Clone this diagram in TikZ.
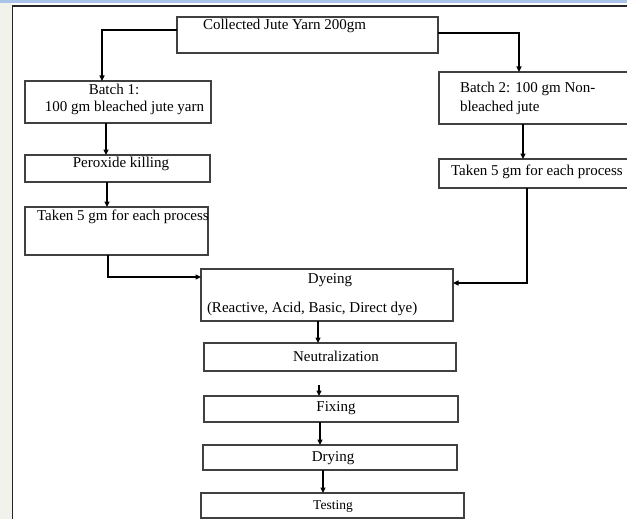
\documentclass[tikz,border=0pt]{standalone}
\usepackage{fontspec}
\setmainfont{Liberation Serif}
\usetikzlibrary{arrows.meta,calc}
\begin{document}
\begin{tikzpicture}[x=1pt,y=-1pt,
  box/.style={draw=black!75,line width=1.1pt,inner sep=0pt,outer sep=0pt},
  txt/.style={inner sep=0pt,outer sep=0pt,font=\fontsize{15}{18}\selectfont,text=black},
  arr/.style={draw=black,line width=1.2pt,-{Triangle[length=5.5pt,width=5pt]}},
  conn/.style={draw=black,line width=1.2pt}]
\useasboundingbox (0,0) rectangle (627,519);
\begin{scope}
\clip (0,0) rectangle (627,519);
% page frame
\fill[white] (0,0) rectangle (627,519);
\fill[color={rgb,255:red,242;green,242;blue,236}] (0,0) rectangle (12,519);
\fill[white] (12,6) rectangle (627,519);
\draw[color={rgb,255:red,168;green,196;blue,232},line width=2.5pt] (0,1.5) -- (627,1.5);
\draw[black!85,line width=1.6pt] (12.5,519) -- (12.5,6) -- (627,6);
% boxes
\node[box,minimum width=261,minimum height=36] (top) at (307.5,35) {};
\node[box,minimum width=186,minimum height=42] (batch1) at (118,102) {};
\node[box,minimum width=185,minimum height=27] (perox) at (117.5,168.5) {};
\node[box,minimum width=183,minimum height=48] (take1) at (116.5,231) {};
\node[box,minimum width=201,minimum height=52] (batch2) at (539.5,98) {};
\node[box,minimum width=201,minimum height=29] (take2) at (539.5,173.5) {};
\node[box,minimum width=252,minimum height=52] (dye) at (327,295) {};
\node[box,minimum width=252,minimum height=28] (neut) at (330,357) {};
\node[box,minimum width=254,minimum height=26] (fix) at (331,409) {};
\node[box,minimum width=254,minimum height=25] (dry) at (330,457.5) {};
\node[box,minimum width=263,minimum height=25] (test) at (332.5,505.5) {};
% texts
\node[txt,anchor=west] (topt) at (203,26) {Collected Jute Yarn 200gm};
\node[txt] (b1a) at (114,89) {Batch 1:};
\node[txt,anchor=west] (b1b) at (45,108) {100 gm bleached jute yarn};
\node[txt] (pxt) at (121,164) {Peroxide killing};
\node[txt,anchor=west] (t1t) at (37,217) {Taken 5 gm for each process};
\node[txt,anchor=west] (b2a) at (460,89) {Batch 2: 100 gm Non-};
\node[txt,anchor=west] (b2b) at (460,108) {bleached jute};
\node[txt,anchor=west] (t2t) at (451,172) {Taken 5 gm for each process};
\node[txt] (dyt) at (330,280) {Dyeing};
\node[txt,anchor=west] (dyt2) at (207,309) {(Reactive, Acid, Basic, Direct dye)};
\node[txt] (nt) at (336,356) {Neutralization};
\node[txt] (ft) at (336,408) {Fixing};
\node[txt] (drt) at (333,458) {Drying};
\node[txt,font=\fontsize{13.5}{16}\selectfont] (tt) at (333,506) {Testing};
% connectors
\draw[arr] ([yshift=5pt]top.west) -| ([xshift=-16pt]batch1.north);
\draw[arr] ([yshift=2pt]top.east) -| ([xshift=-20.5pt]batch2.north);
\draw[arr] ([xshift=-12pt]batch1.south) -- ([xshift=-12pt]batch1.south |- perox.north);
\draw[arr] ([xshift=-10.5pt]perox.south) -- ([xshift=-10.5pt]perox.south |- take1.north);
\draw[arr] ([xshift=-8.5pt]take1.south) |- ([yshift=18pt]dye.west);
\draw[arr] ([xshift=-16.5pt]batch2.south) -- ([xshift=-16.5pt]batch2.south |- take2.north);
\draw[arr] ([xshift=-12.5pt]take2.south) |- ([yshift=12pt]dye.east);
\draw[arr] ([xshift=-9pt]dye.south) -- ([xshift=-9pt]dye.south |- neut.north);
\draw[arr] ([xshift=-11pt,yshift=-14pt]neut.south) -- ([xshift=-11pt]neut.south |- fix.north);
\draw[arr] ([xshift=-11pt]fix.south) -- ([xshift=-11pt]fix.south |- dry.north);
\draw[arr] ([xshift=-7pt]dry.south) -- ([xshift=-7pt]dry.south |- test.north);
\end{scope}
\end{tikzpicture}
\end{document}
